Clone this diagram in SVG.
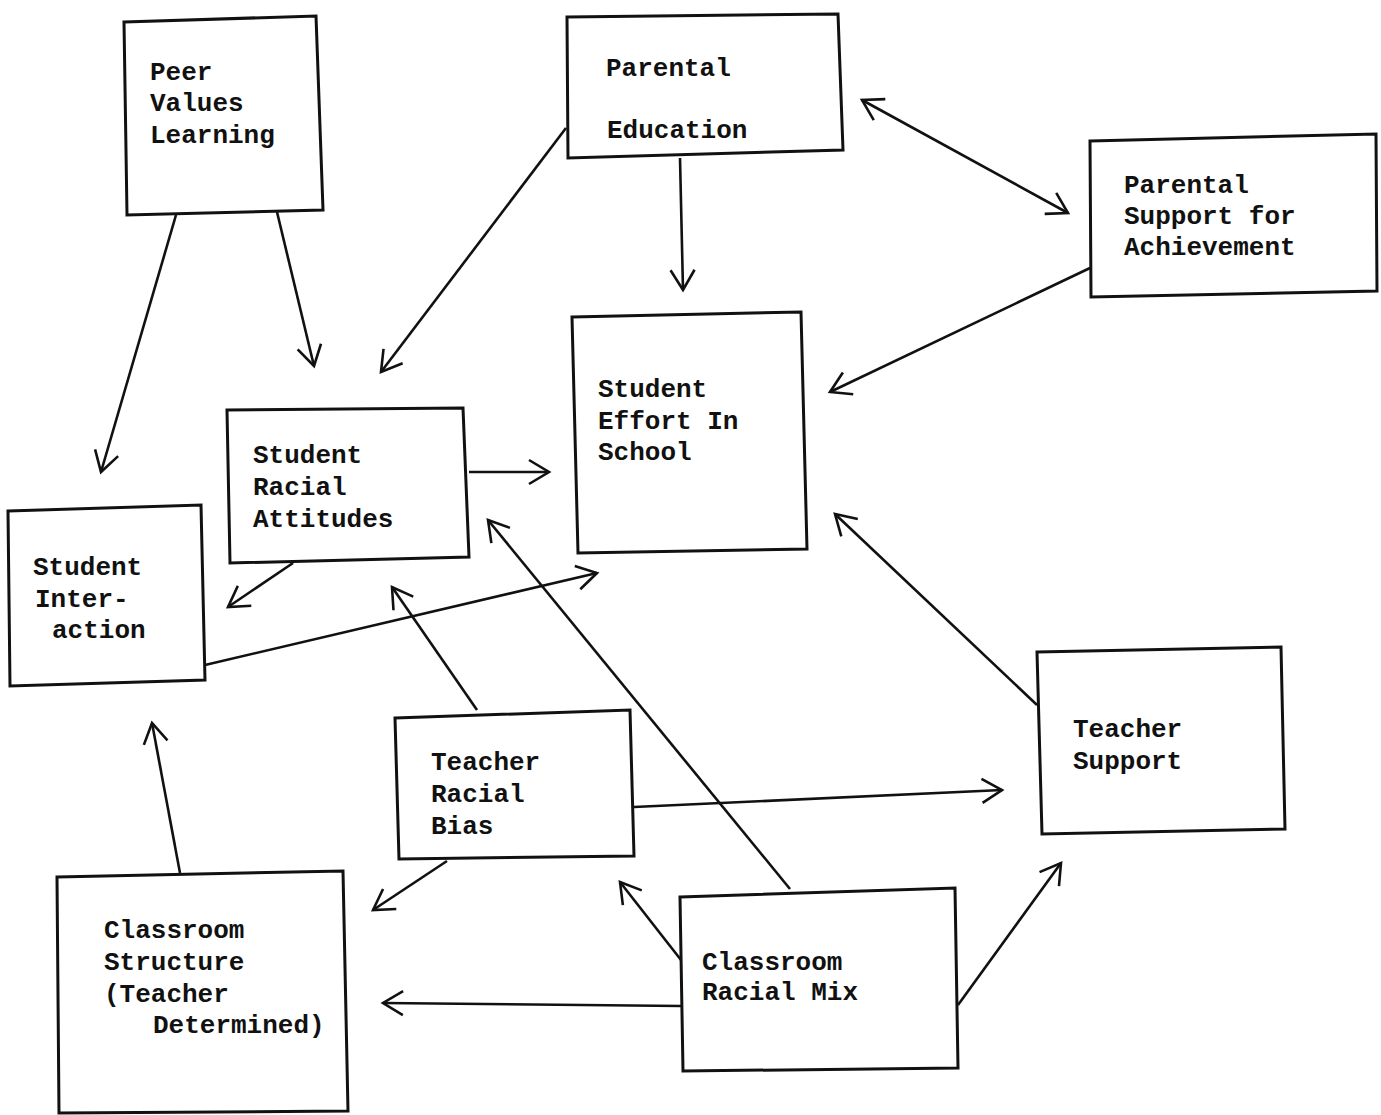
<svg xmlns="http://www.w3.org/2000/svg" width="1381" height="1115" viewBox="0 0 1381 1115">
<style>
.box{fill:none;stroke:#111;stroke-width:3;stroke-linejoin:miter}
.lbl{font-family:"Liberation Mono","DejaVu Sans Mono",monospace;font-size:26px;font-weight:bold;fill:#111}
.c{fill:none;stroke:#111;stroke-width:2.6;marker-end:url(#v)}
</style>
<defs>
<marker id="v" viewBox="-24 -14 28 28" refX="0" refY="0" markerWidth="28" markerHeight="28" markerUnits="userSpaceOnUse" orient="auto-start-reverse">
<path d="M -20 -12 L 0 0 L -20 12" fill="none" stroke="#111" stroke-width="2.6"/>
</marker>
</defs>
<rect width="1381" height="1115" fill="#fff"/>
<g id="connectors">
<line class="c" x1="176" y1="215" x2="101" y2="472"/>
<line class="c" x1="277" y1="212" x2="314" y2="366"/>
<line class="c" x1="566" y1="128" x2="381" y2="372"/>
<line class="c" x1="680" y1="158" x2="683" y2="290"/>
<line class="c" x1="862" y1="100" x2="1068" y2="213" style="marker-start:url(#v)"/>
<line class="c" x1="1090" y1="268" x2="830" y2="392"/>
<line class="c" x1="469" y1="472" x2="549" y2="472"/>
<line class="c" x1="293" y1="563" x2="228" y2="607"/>
<line class="c" x1="205" y1="665" x2="597" y2="573"/>
<line class="c" x1="1037" y1="705" x2="835" y2="514"/>
<line class="c" x1="477" y1="710" x2="392" y2="587"/>
<line class="c" x1="634" y1="807" x2="1002" y2="790"/>
<line class="c" x1="447" y1="861" x2="373" y2="910"/>
<line class="c" x1="790" y1="889" x2="488" y2="520"/>
<line class="c" x1="681" y1="960" x2="620" y2="882"/>
<line class="c" x1="681" y1="1006" x2="383" y2="1003"/>
<line class="c" x1="958" y1="1005" x2="1061" y2="863"/>
<line class="c" x1="180" y1="873" x2="152" y2="723"/>
</g>
<g id="peer-values-learning">
<polygon class="box" points="124,22 316,16 323,210 127,215"/>
<text class="lbl" x="150" y="80">Peer</text>
<text class="lbl" x="150" y="111">Values</text>
<text class="lbl" x="150" y="143">Learning</text>
</g>
<g id="parental-education">
<polygon class="box" points="567,17 838,14 843,150 568,158"/>
<text class="lbl" x="606" y="76">Parental</text>
<text class="lbl" x="607" y="138">Education</text>
</g>
<g id="parental-support">
<polygon class="box" points="1090,141 1376,134 1377,291 1091,297"/>
<text class="lbl" x="1124" y="193">Parental</text>
<text class="lbl" x="1124" y="224">Support for</text>
<text class="lbl" x="1124" y="255">Achievement</text>
</g>
<g id="student-effort">
<polygon class="box" points="572,317 801,312 807,549 578,553"/>
<text class="lbl" x="598" y="397">Student</text>
<text class="lbl" x="598" y="429">Effort In</text>
<text class="lbl" x="598" y="460">School</text>
</g>
<g id="student-racial-attitudes">
<polygon class="box" points="227,410 463,408 469,557 230,563"/>
<text class="lbl" x="253" y="463">Student</text>
<text class="lbl" x="253" y="495">Racial</text>
<text class="lbl" x="253" y="527">Attitudes</text>
</g>
<g id="student-interaction">
<polygon class="box" points="8,511 201,505 205,680 10,686"/>
<text class="lbl" x="33" y="575">Student</text>
<text class="lbl" x="35" y="607">Inter-</text>
<text class="lbl" x="52" y="638">action</text>
</g>
<g id="teacher-racial-bias">
<polygon class="box" points="395,718 630,710 634,856 399,859"/>
<text class="lbl" x="431" y="770">Teacher</text>
<text class="lbl" x="431" y="802">Racial</text>
<text class="lbl" x="431" y="834">Bias</text>
</g>
<g id="teacher-support">
<polygon class="box" points="1037,652 1281,647 1285,829 1042,834"/>
<text class="lbl" x="1073" y="737">Teacher</text>
<text class="lbl" x="1073" y="769">Support</text>
</g>
<g id="classroom-structure">
<polygon class="box" points="57,877 343,871 348,1111 59,1113"/>
<text class="lbl" x="104" y="938">Classroom</text>
<text class="lbl" x="104" y="970">Structure</text>
<text class="lbl" x="104" y="1002">(Teacher</text>
<text class="lbl" x="153" y="1033">Determined)</text>
</g>
<g id="classroom-racial-mix">
<polygon class="box" points="680,897 955,888 958,1068 683,1071"/>
<text class="lbl" x="702" y="970">Classroom</text>
<text class="lbl" x="702" y="1000">Racial Mix</text>
</g>
</svg>
